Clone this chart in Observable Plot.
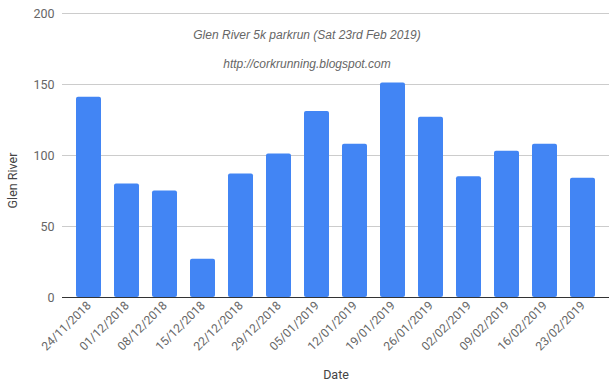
<!DOCTYPE html>
<html>
<head>
<meta charset="utf-8">
<script src="https://cdn.jsdelivr.net/npm/d3@7"></script>
<script src="https://cdn.jsdelivr.net/npm/@observablehq/plot@0.6"></script>
<style>
  html, body { margin: 0; padding: 0; background: #fff; }
  #chart svg { display: block; }
</style>
</head>
<body>
<div id="chart"></div>
<script>
const dates = ["24/11/2018","01/12/2018","08/12/2018","15/12/2018","22/12/2018","29/12/2018","05/01/2019","12/01/2019","19/01/2019","26/01/2019","02/02/2019","09/02/2019","16/02/2019","23/02/2019"];
const runners = [141, 80, 75, 27, 87, 101, 131, 108, 151, 127, 85, 103, 108, 84];
const yTicks = [0, 50, 100, 150, 200];
const titleText = "Glen River 5k parkrun (Sat 23rd Feb 2019)";
const subtitleText = "http://corkrunning.blogspot.com";

const data = dates.map((d, i) => ({date: d, value: runners[i]}));
const font = "Roboto, 'Liberation Sans', Arial, sans-serif";

const chart = Plot.plot({
  width: 609,
  height: 392,
  marginLeft: 62,
  marginRight: 0,
  marginTop: 13,
  marginBottom: 95,
  style: {fontFamily: font, fontSize: "12px", color: "#666", background: "#fff"},
  x: {domain: dates, padding: 0.35},
  y: {domain: [0, 200]},
  marks: [
    Plot.gridY(yTicks, {stroke: "#cccccc", strokeOpacity: 1}),
    Plot.axisY(yTicks, {tickSize: 0, tickPadding: 8, fontSize: 12.5, label: null}),
    Plot.text(["Glen River"], {frameAnchor: "left", textAnchor: "middle", dx: -50, dy: 25, rotate: -90, fill: "#444", fontSize: 12.5}),
    Plot.axisX({tickSize: 0, tickPadding: 6, tickRotate: -45, fontSize: 12, label: null}),
    Plot.text(["Date"], {frameAnchor: "bottom", dy: 81, fill: "#444", fontSize: 12.5}),
    Plot.barY(data, {x: "date", y: "value", fill: "#4285f4", rx: 2}),
    Plot.ruleY([0], {stroke: "#333"}),
    Plot.text([titleText], {frameAnchor: "top", dx: -29, dy: 17, fontStyle: "italic", fill: "#666", fontSize: 12, fontFamily: "'Liberation Sans', Arial, sans-serif"}),
    Plot.text([subtitleText], {frameAnchor: "top", dx: -29, dy: 46, fontStyle: "italic", fill: "#666", fontSize: 12, fontFamily: "'Liberation Sans', Arial, sans-serif"})
  ]
});
document.getElementById("chart").appendChild(chart);
</script>
</body>
</html>
